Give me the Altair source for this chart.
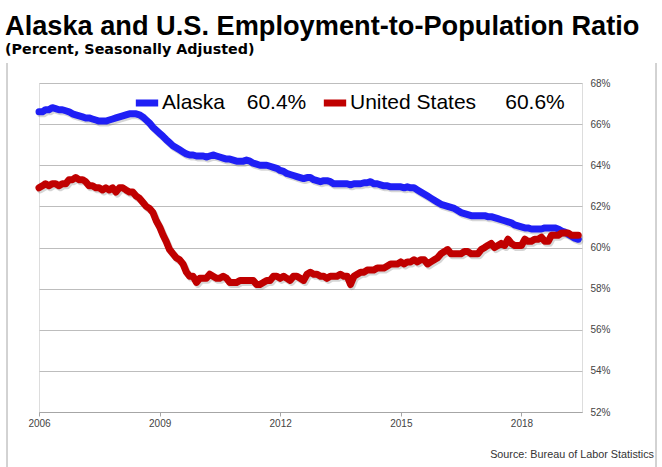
import altair as alt
import pandas as pd

# ---------------- data ----------------
series_names = ["Alaska", "United States"]
latest_labels = ["60.4%", "60.6%"]
series_colors = ["#1F1FF5", "#C00000"]
first_month = "2006-01-01"

alaska = [
    66.6, 66.6, 66.7, 66.7, 66.8, 66.75, 66.7, 66.7, 66.65, 66.6, 66.5, 66.45,
    66.4, 66.35, 66.3, 66.3, 66.25, 66.2, 66.15, 66.15, 66.15, 66.2, 66.25, 66.3,
    66.35, 66.4, 66.45, 66.5, 66.5, 66.5, 66.45, 66.35, 66.2, 66.05, 65.85, 65.7,
    65.55, 65.4, 65.25, 65.1, 64.95, 64.85, 64.75, 64.65, 64.55, 64.5, 64.5, 64.45,
    64.45, 64.45, 64.4, 64.45, 64.5, 64.45, 64.4, 64.35, 64.3, 64.3, 64.25, 64.2,
    64.2, 64.2, 64.25, 64.2, 64.1, 64.05, 64.0, 64.0, 64.0, 63.95, 63.9, 63.85,
    63.75, 63.7, 63.6, 63.55, 63.5, 63.45, 63.4, 63.35, 63.4, 63.4, 63.3, 63.25,
    63.2, 63.25, 63.25, 63.2, 63.1, 63.1, 63.1, 63.1, 63.1, 63.05, 63.1, 63.1,
    63.1, 63.15, 63.15, 63.2, 63.1, 63.1, 63.05, 63.0, 63.0, 62.95, 62.95, 62.95,
    62.95, 62.9, 62.95, 62.9, 62.9, 62.8, 62.7, 62.6, 62.5, 62.4, 62.3, 62.2,
    62.1, 62.05, 62.0, 61.95, 61.9, 61.8, 61.7, 61.65, 61.6, 61.55, 61.55, 61.55,
    61.55, 61.55, 61.5, 61.5, 61.45, 61.4, 61.35, 61.3, 61.25, 61.2, 61.1, 61.05,
    61.0, 60.95, 60.95, 60.9, 60.9, 60.9, 60.9, 60.95, 60.95, 60.95, 60.95, 60.9,
    60.8, 60.75, 60.65, 60.55, 60.45, 60.4,
]

united_states = [
    62.9, 63.0, 63.1, 63.0, 63.1, 63.1, 63.0, 63.1, 63.1, 63.3, 63.3, 63.4,
    63.3, 63.3, 63.2, 63.0, 63.0, 62.9, 62.9, 62.8, 62.9, 62.8, 62.9, 62.7,
    62.9, 62.9, 62.8, 62.7, 62.7, 62.5, 62.4, 62.2, 62.0, 61.9, 61.7, 61.3,
    61.0, 60.6, 60.3, 59.9, 59.7, 59.5, 59.4, 59.2, 58.8, 58.6, 58.6, 58.3,
    58.5, 58.5, 58.5, 58.7, 58.6, 58.5, 58.5, 58.6, 58.5, 58.3, 58.3, 58.3,
    58.4, 58.4, 58.4, 58.4, 58.4, 58.2, 58.2, 58.3, 58.4, 58.4, 58.6, 58.6,
    58.5, 58.6, 58.5, 58.4, 58.6, 58.6, 58.5, 58.4, 58.7, 58.8, 58.7, 58.7,
    58.6, 58.6, 58.5, 58.6, 58.6, 58.6, 58.7, 58.6, 58.6, 58.2, 58.6, 58.7,
    58.8, 58.8, 58.9, 58.9, 58.9, 59.0, 59.0, 59.0, 59.1, 59.2, 59.2, 59.2,
    59.3, 59.2, 59.3, 59.3, 59.4, 59.3, 59.4, 59.4, 59.2, 59.3, 59.4, 59.5,
    59.7, 59.8, 59.9, 59.7, 59.7, 59.7, 59.7, 59.8, 59.8, 59.7, 59.7, 59.7,
    59.9, 60.0, 60.1, 60.2, 60.0, 60.1, 60.2, 60.1, 60.4, 60.2, 60.1, 60.1,
    60.1, 60.4, 60.3, 60.3, 60.4, 60.4, 60.5, 60.3, 60.3, 60.6, 60.6, 60.6,
    60.7, 60.7, 60.7, 60.6, 60.6, 60.6,
]

x_tick_years = [2006, 2009, 2012, 2015, 2018]
y_ticks = [52, 54, 56, 58, 60, 62, 64, 66, 68]
title_text = "Alaska and U.S. Employment-to-Population Ratio"
subtitle_text = "(Percent, Seasonally Adjusted)"
source_text = "Source: Bureau of Labor Statistics"

# ---------------- table ----------------
months = pd.date_range(first_month, periods=len(alaska), freq="MS")
frames = []
for name, vals in zip(series_names, [alaska, united_states]):
    frames.append(pd.DataFrame({
        "date": [m.strftime("%Y-%m-%dT00:00:00") for m in months],
        "value": vals,
        "series": name,
    }))
df = pd.concat(frames, ignore_index=True)

NB = "\u00a0"
gaps = [NB * 3 + "\u2009", NB * 5]
label_map = {n: n + g + v for n, v, g in zip(series_names, latest_labels, gaps)}
label_expr = " : ".join(
    f"datum.label == '{k}' ? '{v}'" for k, v in label_map.items()
) + " : datum.label"

x_scale = alt.Scale(domain=["2006-01-01T00:00:00", "2019-07-05T00:00:00"])
y_scale = alt.Scale(domain=[52, 68])

x_enc = alt.X(
    "date:T", scale=x_scale, title=None,
    axis=alt.Axis(
        values=[f"{y}-01-01T00:00:00" for y in x_tick_years], format="%Y",
        grid=False, domainColor="#A6A6A6", tickColor="#A6A6A6", tickSize=4,
        labelFont="Liberation Sans", labelFontSize=10, labelColor="#444444",
        labelPadding=2, labelFlush=False,
    ),
)
y_enc = alt.Y(
    "value:Q", scale=y_scale, title=None,
    axis=alt.Axis(
        orient="right", values=y_ticks, labelExpr="datum.value + '%'",
        grid=True, gridColor="#BDBDBD", gridWidth=1, domain=False, ticks=False,
        labelFont="Liberation Sans", labelFontSize=10, labelColor="#444444",
        labelPadding=8,
    ),
)

shadow = alt.Chart(df).mark_line(
    strokeWidth=7, strokeCap="round", strokeJoin="round",
    color="#777777", opacity=0.3, xOffset=1.5, yOffset=2,
).encode(x=x_enc, y=y_enc, detail="series:N")

lines = alt.Chart(df).mark_line(
    strokeWidth=7, strokeCap="round", strokeJoin="round",
).encode(
    x=x_enc, y=y_enc,
    color=alt.Color(
        "series:N",
        scale=alt.Scale(domain=series_names, range=series_colors),
        legend=alt.Legend(
            title=None, orient="none", legendX=93, legendY=5,
            direction="horizontal", symbolType="stroke", symbolStrokeWidth=7,
            symbolSize=500, labelExpr=label_expr, labelFont="Liberation Sans",
            labelFontSize=21, labelColor="black", labelLimit=400,
            columnPadding=2, labelOffset=0,
        ),
    ),
)

src = alt.Chart(pd.DataFrame({"t": [source_text]})).mark_text(
    align="right", baseline="middle", font="Liberation Sans", fontSize=10.8,
    color="#333333",
).encode(text="t:N", x=alt.value(615), y=alt.value(372))

frame_df = pd.DataFrame({"k": [0]})
frame_left = alt.Chart(frame_df).mark_rule(color="#A6A6A6", strokeWidth=1).encode(
    x=alt.value(-32), y=alt.value(-20), y2=alt.value(384))
frame_right = alt.Chart(frame_df).mark_rule(color="#A6A6A6", strokeWidth=1).encode(
    x=alt.value(617), y=alt.value(-20), y2=alt.value(384))

chart = alt.layer(frame_left, frame_right, shadow, lines, src).properties(
    width=543, height=329,
    autosize="none",
    padding={"left": 39, "top": 83, "right": 80, "bottom": 55},
    title=alt.Title(
        text=title_text, subtitle=subtitle_text, anchor="start", frame="group",
        dx=-34, offset=4, font="Liberation Sans", fontSize=27.2, fontWeight="bold",
        color="black", subtitleFont="DejaVu Sans", subtitleFontSize=14.3,
        subtitleFontWeight="bold", subtitleColor="black", subtitlePadding=2,
    ),
).configure_view(stroke=None).configure(background="white")

chart.save("out.html", embed_options={"renderer": "svg", "actions": False})
